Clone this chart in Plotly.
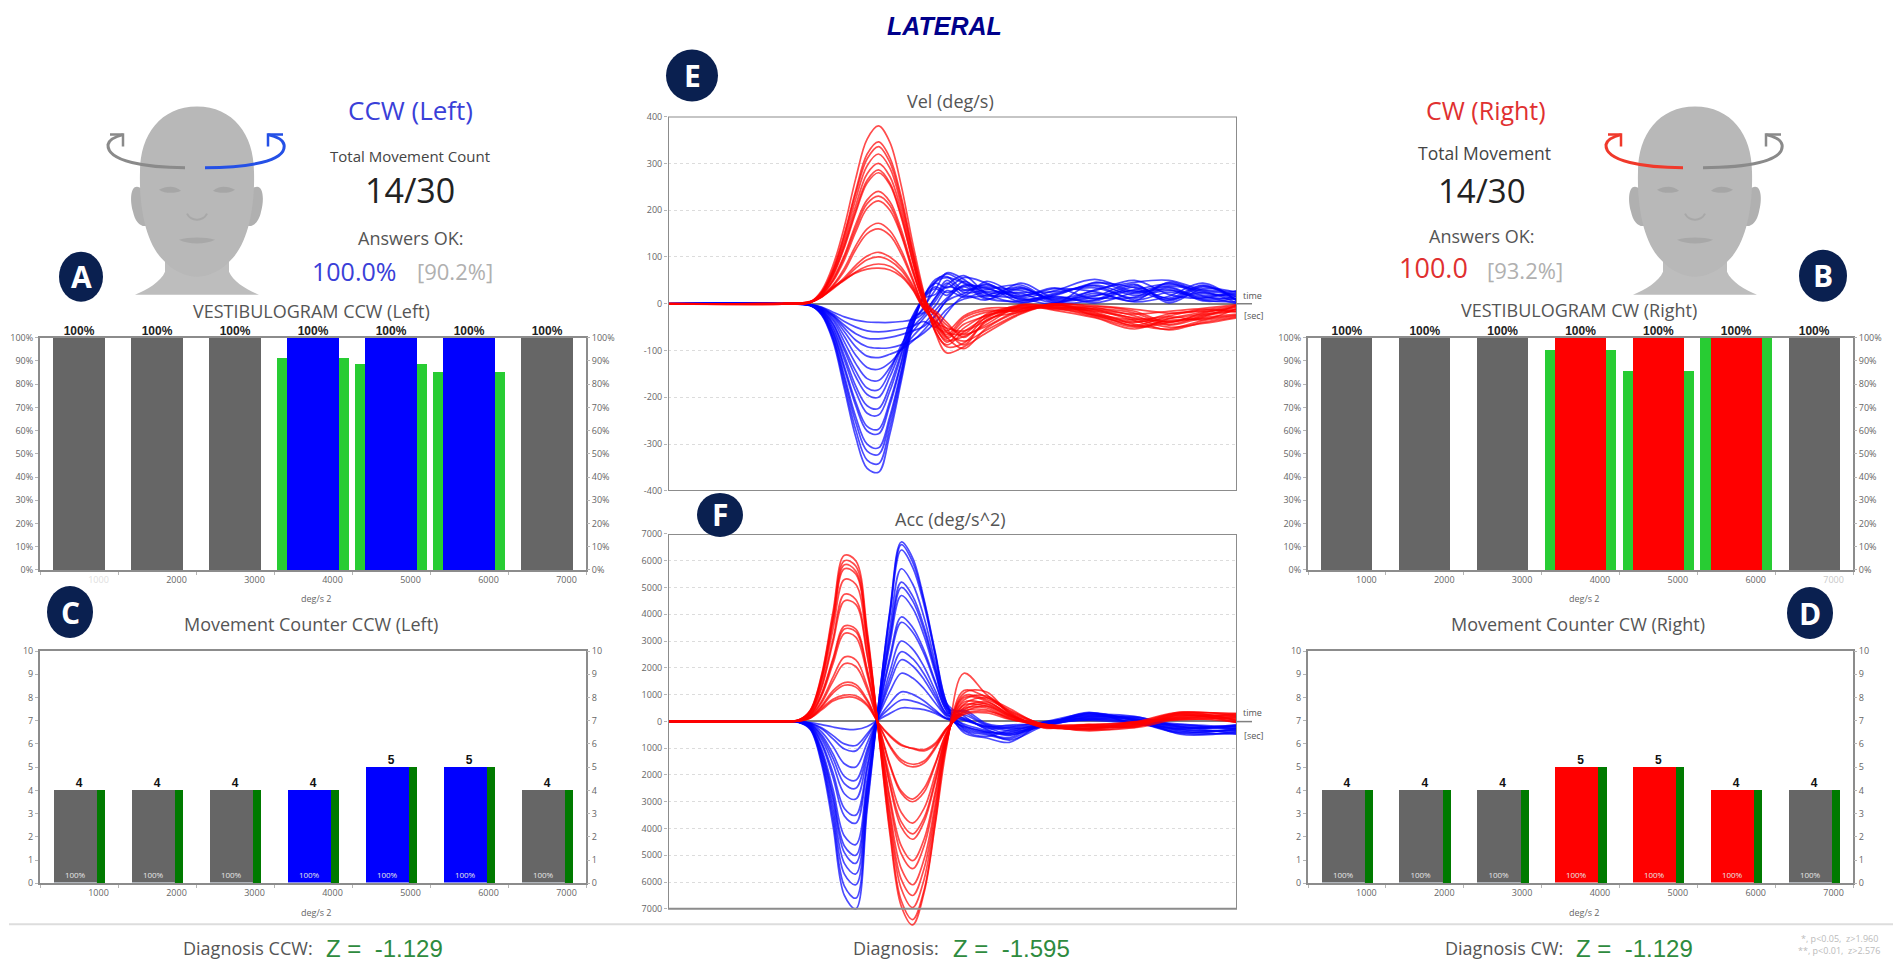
import plotly.graph_objects as go

# page has an 8px body margin, figure is sized so it fits the 1902x974 window
W = 1886
H = 956
FONT = "Open Sans"

# ---- bar panels ----
bar_x = [500, 1500, 2500, 3500, 4500, 5500, 6500]
tick_pos = [750, 1750, 2750, 3750, 4750, 5750, 6750]
tick_labels = ["1000", "2000", "3000", "4000", "5000", "6000", "7000"]
pct_labels = ["100%", "100%", "100%", "100%", "100%", "100%", "100%"]

vest_left = [100, 100, 100, 100, 100, 100, 100]
vest_left_green = [0, 0, 0, 91.5, 89, 85.5, 0]
vest_right = [100, 100, 100, 100, 100, 100, 100]
vest_right_green = [0, 0, 0, 95, 86, 100, 0]

count_left = [4, 4, 4, 4, 5, 5, 4]
count_right = [4, 4, 4, 5, 5, 4, 4]

colors_left = ["#666666", "#666666", "#666666", "#0000ff", "#0000ff", "#0000ff", "#666666"]
colors_right = ["#666666", "#666666", "#666666", "#ff0000", "#ff0000", "#ff0000", "#666666"]

# ---- velocity traces ----
t_vel = [0, .2, .25, .27, .29, .31, .33, .35, .37, .39, .41, .43, .45, .47, .49, .52, .56, .62, .68, .75, .82, .88, .94, 1.0]

vel_red = [
    [0, 0, 4, 28, 82, 165, 268, 352, 380, 345, 252, 130, 22, -62, -105, -92, -62, -22, -2, -18, -44, -54, -36, -26],
    [0, 1, 3, 25, 74, 150, 242, 320, 346, 312, 228, 116, 18, -58, -92, -84, -38, -10, -10, -28, -50, -40, -24, -12],
    [0, -1, 4, 24, 71, 146, 236, 310, 336, 302, 220, 110, 12, -30, -72, -96, -52, -16, -3, -12, -32, -50, -42, -30],
    [1, 0, 3, 23, 68, 138, 224, 295, 320, 290, 210, 106, 14, -60, -88, -60, -30, -6, -14, -30, -54, -32, -18, -6],
    [0, 0, 5, 23, 65, 130, 210, 278, 300, 272, 198, 98, 10, -20, -60, -80, -56, -20, 0, -8, -26, -46, -30, -22],
    [-1, 0, 3, 22, 62, 124, 200, 264, 286, 258, 188, 92, 8, -46, -82, -52, -24, -14, -6, -24, -46, -28, -34, -10],
    [0, 1, 4, 21, 60, 120, 195, 258, 280, 254, 184, 90, 6, -52, -78, -70, -44, -4, -12, -14, -36, -56, -40, -28],
    [0, 0, 3, 20, 54, 104, 170, 222, 240, 218, 158, 76, 4, -24, -54, -88, -34, -18, 0, -26, -40, -22, -14, -4],
    [1, 0, 4, 19, 50, 100, 162, 214, 230, 210, 150, 72, 2, -42, -74, -44, -26, -2, -8, -10, -20, -44, -26, -16],
    [0, -1, 3, 19, 48, 94, 154, 204, 220, 200, 146, 68, 0, -48, -62, -66, -48, -12, -3, -20, -48, -36, -32, -24],
    [0, 0, 3, 17, 40, 76, 124, 160, 172, 156, 114, 54, -4, -16, -40, -72, -28, -8, -10, -6, -16, -40, -20, -8],
    [0, 0, 4, 16, 38, 70, 116, 150, 160, 146, 106, 50, -6, -40, -70, -36, -18, -12, -1, -22, -34, -26, -12, -18],
    [0, 1, 3, 15, 34, 56, 82, 102, 110, 100, 78, 40, -8, -38, -52, -58, -36, -3, -6, -16, -30, -38, -28, -3],
    [0, 0, 3, 15, 32, 52, 76, 94, 100, 92, 72, 36, -10, -42, -66, -30, -14, -16, -2, -4, -12, -20, -16, -12],
    [0, 0, 4, 14, 34, 50, 68, 80, 85, 80, 62, 32, -10, -22, -46, -64, -22, -5, -9, -24, -38, -32, -22, -15],
    [0, 0, 3, 15, 36, 52, 66, 74, 76, 72, 58, 30, -12, -36, -58, -26, -10, -9, -4, -12, -22, -16, -10, -2],
]

vel_blue = [
    [0, 0, -3, -24, -80, -182, -285, -352, -360, -278, -165, -50, 18, 48, 64, 46, 24, 22, 2, 30, 46, 50, 30, 26],
    [0, 1, -3, -23, -76, -172, -270, -334, -342, -264, -156, -46, 16, 52, 58, 30, 40, 10, 18, 44, 34, 12, 40, 8],
    [1, 0, -4, -22, -72, -162, -254, -315, -322, -250, -148, -44, -6, 30, 66, 52, 16, 34, 6, 12, 14, 44, 18, 22],
    [0, -1, -3, -21, -68, -154, -242, -300, -308, -240, -142, -40, 15, 44, 34, 56, 44, 14, 28, 52, 26, 30, 8, 4],
    [0, 0, -3, -19, -62, -140, -218, -272, -278, -216, -128, -36, 12, 20, 50, 24, 30, 40, 4, 8, 40, 6, 36, 14],
    [-1, 0, -4, -18, -60, -134, -210, -262, -268, -208, -124, -34, -10, 46, 56, 44, 12, 6, 22, 38, 8, 24, 14, 10],
    [0, 0, -3, -17, -54, -120, -188, -234, -238, -186, -110, -30, 14, 36, 24, 38, 36, 28, 10, 18, 30, 42, 28, 20],
    [0, 1, -3, -16, -50, -112, -176, -218, -224, -174, -104, -28, -18, 12, 44, 18, 48, 18, 32, 26, 4, 16, 44, 6],
    [0, 0, -3, -15, -44, -100, -156, -194, -200, -156, -94, -26, 12, 32, 18, 48, 20, 12, 0, 46, 22, 36, 10, 16],
    [1, 0, -2, -14, -42, -94, -144, -180, -184, -144, -88, -50, -24, 6, 36, 28, 34, 4, 14, 6, 36, 10, 24, 2],
    [0, -1, -3, -13, -36, -82, -128, -160, -164, -136, -96, -60, -30, -4, 28, 14, 26, 24, 26, 34, 12, 34, 6, 12],
    [0, 0, -2, -12, -32, -70, -110, -136, -140, -126, -98, -70, -44, -14, 12, 36, 10, 32, 8, 16, 42, 2, 32, 24],
    [0, 0, -2, -11, -28, -60, -92, -112, -115, -108, -98, -80, -56, -26, 6, 22, 42, 8, 20, 40, 18, 28, 16, 0],
    [0, 1, -3, -10, -26, -52, -78, -92, -95, -94, -88, -78, -62, -40, -12, 10, 18, 36, 2, 22, 6, 46, 22, 18],
    [0, 0, -2, -9, -24, -46, -64, -74, -75, -72, -66, -58, -48, -24, 8, 40, 32, 16, 34, 10, 28, 8, 38, 6],
    [0, 0, -2, -8, -22, -38, -50, -58, -60, -58, -54, -48, -38, -50, -20, 16, 8, 44, 12, 28, 50, 20, 12, 28],
    [0, 0, -2, -7, -18, -28, -35, -39, -40, -40, -38, -34, -20, 14, 40, 60, 22, 2, 16, 2, 24, 38, 26, 10],
]

# ---- acceleration traces ----
t_acc = [0, .2, .23, .25, .27, .29, .31, .33, .35, .37, .39, .41, .43, .45, .47, .49, .52, .56, .60, .66, .74, .82, .90, 1.0]

acc_red = [
    [0, 10, 60, 420, 1750, 4100, 6200, 6000, 3400, -400, -4200, -6900, -7600, -6400, -3800, -900, 1800, 1000, 350, -100, -200, -120, 230, 180],
    [0, -10, 50, 400, 1700, 3950, 6000, 5800, 3250, -380, -4050, -6700, -7400, -6300, -3700, -800, 1150, 900, 480, -150, -260, -40, 320, 260],
    [10, 0, 60, 390, 1620, 3800, 5850, 5620, 3150, -350, -3800, -6250, -6950, -5900, -3450, -750, 1050, 1100, 300, -220, -180, -200, 150, 60],
    [0, 10, 40, 380, 1580, 3720, 5700, 5500, 3050, -340, -3550, -5900, -6500, -5500, -3250, -700, 950, 820, 420, -120, -320, -90, 280, 300],
    [-10, 0, 50, 350, 1470, 3450, 5300, 5120, 2850, -300, -3350, -5500, -6100, -5150, -3050, -650, 880, 760, 260, -190, -140, -230, 90, -30],
    [0, 0, 40, 320, 1320, 3080, 4750, 4550, 2550, -270, -3000, -4950, -5500, -4650, -2750, -600, 800, 950, 390, -110, -290, -30, 350, 210],
    [10, -10, 40, 300, 1250, 2950, 4500, 4370, 2450, -260, -2850, -4650, -5200, -4400, -2600, -580, 720, 640, 220, -170, -220, -170, 200, 120],
    [0, 0, 30, 260, 1050, 2350, 3560, 3450, 1950, -200, -2400, -3950, -4400, -3750, -2250, -520, 640, 880, 330, -240, -110, -60, 110, 280],
    [0, 10, 30, 240, 1000, 2280, 3450, 3350, 1880, -190, -2300, -3750, -4200, -3600, -2150, -500, 600, 560, 180, -130, -350, -150, 300, 40],
    [-10, 0, 30, 230, 950, 2150, 3280, 3150, 1760, -180, -2080, -3400, -3800, -3250, -1950, -480, 520, 720, 280, -200, -160, -20, 60, 160],
    [0, 0, 30, 200, 760, 1650, 2400, 2300, 1330, -130, -1650, -2680, -3000, -2650, -1600, -420, 480, 500, 120, -100, -300, -220, 240, -50],
    [0, 10, 20, 180, 700, 1500, 2150, 2050, 1200, -120, -1600, -2600, -2900, -2500, -1550, -400, 420, 660, 240, -180, -130, -80, 180, 230],
    [0, 0, 20, 150, 580, 1150, 1450, 1380, 820, -100, -950, -1520, -1700, -1560, -1000, -300, 380, 430, 100, -150, -250, -10, 80, 100],
    [10, 0, 20, 140, 540, 1060, 1350, 1280, 760, -90, -900, -1430, -1600, -1480, -950, -280, 340, 580, 200, -110, -190, -130, 340, 20],
    [0, -10, 20, 130, 480, 830, 980, 960, 640, -70, -560, -900, -1000, -1050, -800, -240, 300, 380, 150, -210, -280, -60, 130, 190],
    [0, 0, 20, 120, 430, 760, 900, 880, 590, -60, -520, -860, -1020, -1100, -860, -260, 260, 320, 80, -130, -120, -180, 260, -40],
]

acc_blue = [
    [0, -5, -40, -300, -1600, -3900, -6500, -7000, -3300, 650, 4150, 6700, 6100, 4550, 2550, 670, -300, -500, -650, -100, 200, 100, -300, -350],
    [0, 5, -40, -280, -1500, -3650, -6150, -6600, -3100, 640, 4080, 6600, 5950, 4480, 2500, 660, 200, -300, -500, -160, 320, 30, -420, -250],
    [-5, 0, -30, -260, -1400, -3400, -5700, -6100, -2900, 620, 3950, 6400, 5750, 4350, 2430, 640, -420, -620, -780, -60, 120, 170, -180, -460],
    [0, 0, -30, -240, -1300, -3150, -5300, -5700, -2700, 550, 3500, 5700, 5130, 3880, 2160, 570, 100, -180, -350, -200, 280, -60, -260, -180],
    [0, -5, -30, -220, -1200, -2900, -4900, -5300, -2500, 500, 3200, 5200, 4680, 3540, 1980, 520, -250, -460, -600, -30, 60, 120, -480, -380],
    [5, 0, -30, -210, -1130, -2750, -4650, -5000, -2370, 480, 3080, 5000, 4500, 3400, 1900, 500, 350, -120, -240, -130, 340, -100, -120, -300],
    [0, 0, -20, -190, -1040, -2530, -4280, -4600, -2180, 470, 2900, 4700, 4230, 3200, 1790, 470, -150, -400, -700, -180, 150, 60, -350, -480],
    [0, 5, -20, -160, -860, -2090, -3530, -3800, -1800, 390, 2420, 3900, 3510, 2650, 1480, 390, 50, -220, -450, -70, 240, 190, -200, -150],
    [0, 0, -20, -150, -790, -1920, -3250, -3500, -1660, 370, 2290, 3700, 3330, 2520, 1410, 370, -350, -560, -320, -150, 90, -30, -440, -420],
    [-5, 0, -20, -130, -660, -1600, -2700, -2900, -1380, 300, 1860, 3000, 2700, 2040, 1140, 300, 420, -80, -180, -20, 300, 80, -150, -240],
    [0, 0, -15, -110, -570, -1380, -2320, -2500, -1190, 260, 1610, 2600, 2340, 1770, 990, 260, -100, -340, -520, -110, 40, -80, -310, -340],
    [0, -5, -15, -100, -500, -1210, -2050, -2200, -1050, 230, 1430, 2300, 2070, 1560, 870, 230, 250, -150, -280, -190, 180, 140, -230, -120],
    [0, 0, -10, -80, -390, -940, -1580, -1700, -810, 190, 1120, 1800, 1620, 1220, 680, 180, -220, -420, -400, -40, 110, -20, -380, -300],
    [0, 0, -10, -70, -280, -650, -1030, -1100, -560, 120, 680, 1100, 1010, 760, 420, 110, 120, -260, -220, -90, 260, 60, -100, -200],
    [5, 0, -10, -60, -240, -530, -840, -900, -460, 90, 500, 800, 760, 610, 360, 100, -180, -380, -460, -140, 70, -50, -280, -160],
    [0, 0, -5, -40, -120, -210, -280, -300, -190, 60, 300, 500, 490, 440, 300, 90, 60, -200, -140, -60, 210, 30, -210, -260],
]

# ---- tick texts ----
vel_ticks = [-400, -300, -200, -100, 0, 100, 200, 300, 400]
vel_tick_labels = ["-400", "-300", "-200", "-100", "0", "100", "200", "300", "400"]
acc_ticks = [-7000, -6000, -5000, -4000, -3000, -2000, -1000, 0, 1000, 2000, 3000, 4000, 5000, 6000, 7000]
acc_tick_labels = ["7000", "6000", "5000", "4000", "3000", "2000", "1000", "0", "1000", "2000", "3000", "4000", "5000", "6000", "7000"]


def X(px):
    return (px - 8) / W


def Y(py):
    # vertical mapping measured from the first render
    return 1 - (py - 15.5) / 942.2


fig = go.Figure()
annots = []
shapes = []


def txt(x, y, s, size, color="#555555", bold=False, italic=False, family=FONT):
    if bold:
        s = "<b>" + s + "</b>"
    if italic:
        s = "<i>" + s + "</i>"
    annots.append(dict(x=X(x), y=Y(y), xref="paper", yref="paper", text=s, showarrow=False,
                       xanchor="center", yanchor="middle",
                       font=dict(family=family, size=size, color=color)))


def badge(x, y, rx, ry, letter):
    shapes.append(dict(type="circle", xref="paper", yref="paper", layer="above",
                       x0=X(x - rx), x1=X(x + rx), y0=Y(y + ry), y1=Y(y - ry),
                       fillcolor="#0a2050", line=dict(width=0)))
    txt(x, y, letter, 30, "white", bold=True)


def head_path(d, cx):
    out = []
    is_x = True
    for tok in d.split():
        if tok.isalpha():
            out.append(tok)
        else:
            out.append(str(X(cx + float(tok))) if is_x else str(Y(float(tok))))
            is_x = not is_x
    return " ".join(out)


def draw_path(d, cx, fill=None, line_color=None, width=0):
    shapes.append(dict(type="path", xref="paper", yref="paper", layer="above",
                       path=head_path(d, cx), fillcolor=fill if fill else "rgba(0,0,0,0)",
                       line=dict(color=line_color if line_color else "rgba(0,0,0,0)", width=width)))


def head(cx, left_color, right_color):
    skin = "#b8b8b8"
    # neck and shoulders
    draw_path("M -32 240 L -32 272 C -36 282 -50 290 -62 295 L 62 295 C 50 290 36 282 32 272 L 32 240 Z", cx, fill="#bdbdbd")
    # ears
    draw_path("M -54 190 C -66 180 -68 198 -64 212 C -62 222 -56 228 -50 226 Z", cx, fill="#b0b0b0")
    draw_path("M 54 190 C 66 180 68 198 64 212 C 62 222 56 228 50 226 Z", cx, fill="#b0b0b0")
    # skull and jaw
    draw_path("M 0 107 C 36 107 57 135 57 172 C 58 205 52 240 36 258 C 24 272 10 277 0 277 "
              "C -10 277 -24 272 -36 258 C -52 240 -58 205 -57 172 C -57 135 -36 107 0 107 Z", cx, fill=skin)
    # soft face features
    draw_path("M -38 190 C -30 186 -22 186 -16 191 C -22 194 -32 194 -38 190 Z", cx, fill="#a6a6a6")
    draw_path("M 38 190 C 30 186 22 186 16 191 C 22 194 32 194 38 190 Z", cx, fill="#a6a6a6")
    draw_path("M -10 214 C -6 222 6 222 10 214", cx, line_color="#a8a8a8", width=2)
    draw_path("M -18 240 C -8 237 8 237 18 240 C 8 245 -8 245 -18 240 Z", cx, fill="#a8a8a8")
    # rotation arrows
    draw_path("M -12 168 C -50 168 -90 162 -89 145 C -88 140 -82 137 -74 135", cx, line_color=left_color, width=3)
    draw_path("M -87 135 L -74 135 L -74 147", cx, line_color=left_color, width=2.5)
    draw_path("M 8 168 C 50 168 90 162 87 145 C 86 140 80 137 71 135", cx, line_color=right_color, width=3)
    draw_path("M 86 135 L 71 135 L 71 147", cx, line_color=right_color, width=2.5)


axis_style = dict(showline=True, mirror=True, linecolor="#8c8c8c", linewidth=2, showgrid=False, zeroline=False,
                  tickfont=dict(family=FONT, size=9, color="#666666"))


def bar_axes(n, y_left, y_right, left, right, top, bottom, yticks, ylabels, ymax, labels):
    xa = "xaxis" if n == 1 else "xaxis%d" % n
    fig.update_layout(**{
        xa: dict(axis_style, domain=[X(left), X(right)], range=[0, 7000], anchor="y%d" % y_left,
                 tickmode="array", tickvals=tick_pos, ticktext=labels, ticks="",
                 minor=dict(dtick=1000, tick0=0, ticks="outside", ticklen=3, tickcolor="#b5b5b5", showgrid=False)),
        "yaxis%d" % y_left: dict(axis_style, domain=[Y(bottom), Y(top)], range=[0, ymax], anchor="x%d" % n,
                                 tickmode="array", tickvals=yticks, ticktext=ylabels,
                                 ticks="outside", ticklen=3, tickcolor="#b5b5b5"),
        "yaxis%d" % y_right: dict(axis_style, domain=[Y(bottom), Y(top)], range=[0, ymax], anchor="x%d" % n,
                                  overlaying="y%d" % y_left, side="right", showline=False,
                                  tickmode="array", tickvals=yticks, ticktext=ylabels,
                                  ticks="outside", ticklen=3, tickcolor="#b5b5b5"),
    })


def vest_panel(n, yl, yr, left, right, top, bottom, values, green, colors, labels):
    xn = "x" if n == 1 else "x%d" % n
    fig.add_trace(go.Bar(x=bar_x, y=green, width=920, offset=-460, marker=dict(color="#28cc33", line=dict(width=0)),
                         xaxis=xn, yaxis="y%d" % yl, hoverinfo="skip"))
    fig.add_trace(go.Bar(x=bar_x, y=values, width=655, offset=-327, marker=dict(color=colors, line=dict(width=0)),
                         xaxis=xn, yaxis="y%d" % yl, hoverinfo="skip"))
    fig.add_trace(go.Scatter(x=bar_x, y=values, mode="text", text=pct_labels, textposition="top center",
                             textfont=dict(family="Liberation Sans", size=12, color="#222222", weight="bold"),
                             cliponaxis=False, xaxis=xn, yaxis="y%d" % yr, hoverinfo="skip"))
    pct_ticks = [0, 10, 20, 30, 40, 50, 60, 70, 80, 90, 100]
    pct_text = ["0%", "10%", "20%", "30%", "40%", "50%", "60%", "70%", "80%", "90%", "100%"]
    bar_axes(n, yl, yr, left, right, top, bottom, pct_ticks, pct_text, 100, labels)


def count_panel(n, yl, yr, left, right, top, bottom, values, colors, labels):
    xn = "x%d" % n
    fig.add_trace(go.Bar(x=bar_x, y=values, width=660, offset=-325, marker=dict(color="#007a00", line=dict(width=0)),
                         xaxis=xn, yaxis="y%d" % yl, hoverinfo="skip"))
    fig.add_trace(go.Bar(x=bar_x, y=values, width=555, offset=-325, marker=dict(color=colors, line=dict(width=0)),
                         xaxis=xn, yaxis="y%d" % yl, hoverinfo="skip"))
    fig.add_trace(go.Scatter(x=bar_x, y=values, mode="text", text=[str(v) for v in values], textposition="top center",
                             textfont=dict(family="Liberation Sans", size=12, color="#111111", weight="bold"),
                             cliponaxis=False, xaxis=xn, yaxis="y%d" % yr, hoverinfo="skip"))
    fig.add_trace(go.Bar(x=bar_x, y=[0, 0, 0, 0, 0, 0, 0], text=pct_labels, textposition="outside", cliponaxis=False,
                         textfont=dict(family=FONT, size=8, color="#e6e6e6"), marker=dict(color="rgba(0,0,0,0)"),
                         width=555, offset=-325, xaxis=xn, yaxis="y%d" % yr, hoverinfo="skip"))
    c_ticks = [0, 1, 2, 3, 4, 5, 6, 7, 8, 9, 10]
    c_text = [str(v) for v in c_ticks]
    bar_axes(n, yl, yr, left, right, top, bottom, c_ticks, c_text, 10, labels)


faint_1000 = ['<span style="color:#e0e0e0">1000</span>'] + tick_labels[1:]
faint_7000 = tick_labels[:-1] + ['<span style="color:#c8c8c8">7000</span>']

vest_panel(1, 1, 2, 40, 586, 338, 570, vest_left, vest_left_green, colors_left, faint_1000)
count_panel(2, 3, 4, 40, 586, 651, 883, count_left, colors_left, tick_labels)
vest_panel(3, 5, 6, 1308, 1853, 338, 570, vest_right, vest_right_green, colors_right, faint_7000)
count_panel(4, 7, 8, 1308, 1853, 651, 883, count_right, colors_right, tick_labels)


def line_panel(n, yn, top, bottom, times, blue, red, yrange, ticks, ticklabels):
    for c in blue:
        fig.add_trace(go.Scatter(x=times, y=c, mode="lines", line=dict(color="rgba(0,0,255,0.7)", width=1.7, shape="spline"),
                                 xaxis="x%d" % n, yaxis="y%d" % yn, hoverinfo="skip"))
    for c in red:
        fig.add_trace(go.Scatter(x=times, y=c, mode="lines", line=dict(color="rgba(255,0,0,0.7)", width=1.7, shape="spline"),
                                 xaxis="x%d" % n, yaxis="y%d" % yn, hoverinfo="skip"))
    # frame is drawn as a shape so the biggest traces can run past the bottom edge
    shapes.append(dict(type="rect", xref="x%d" % n, yref="y%d" % yn, x0=0, x1=1, y0=ticks[0], y1=ticks[-1],
                       line=dict(color="#8c8c8c", width=2), layer="above"))
    style = dict(axis_style, showline=False, mirror=False)
    fig.update_layout(**{
        "xaxis%d" % n: dict(style, domain=[X(668), X(1237)], range=[0, 1], anchor="y%d" % yn, showticklabels=False, ticks=""),
        "yaxis%d" % yn: dict(style, domain=[Y(bottom), Y(top)], range=yrange, anchor="x%d" % n,
                             tickmode="array", tickvals=ticks, ticktext=ticklabels,
                             ticks="outside", ticklen=3, tickcolor="#b5b5b5",
                             showgrid=True, gridcolor="#dcdcdc", griddash="dot", gridwidth=1,
                             zeroline=True, zerolinecolor="#808080", zerolinewidth=2),
    })


line_panel(5, 9, 117, 491, t_vel, vel_blue, vel_red, [-400, 400], vel_ticks, vel_tick_labels)
# 375px covers 14000 units in the reference, so -7650 sits 17px under the frame
line_panel(6, 10, 534, 926, t_acc, acc_blue, acc_red, [-7650, 7000], acc_ticks, acc_tick_labels)

# time arrows to the right of the two centre panels
for zero_y, time_y, sec_y in [(304, 296, 316), (721.5, 712, 735)]:
    shapes.append(dict(type="line", xref="paper", yref="paper", x0=X(1237), x1=X(1252), y0=Y(zero_y), y1=Y(zero_y),
                       line=dict(color="#808080", width=1.5)))
    txt(1252, time_y, "time", 9)
    txt(1254, sec_y, "[sec]", 9)

# heads
head(197, "#8a8a8a", "#2450e6")
head(1695, "#f0392b", "#8a8a8a")

# header text, left
txt(944, 26, "LATERAL", 25, "#00008b", bold=True, italic=True, family="Liberation Sans")
txt(410, 110, "CCW (Left)", 26, "#3a3fd8")
txt(410, 156, "Total Movement Count", 15, "#444444")
txt(410, 190, "14/30", 34, "#222222")
txt(410, 238, "Answers OK:", 18, "#555555")
txt(354, 271, "100.0%", 25, "#3a3fd8")
txt(455, 271, "[90.2%]", 22, "#b0b0b0")

# header text, right
txt(1486, 110, "CW (Right)", 25, "#e03030")
txt(1484, 153, "Total Movement", 17.5, "#444444")
txt(1482, 191, "14/30", 33, "#222222")
txt(1481, 236, "Answers OK:", 18, "#555555")
txt(1433, 268, "100.0", 27, "#e03030")
txt(1525, 270, "[93.2%]", 22, "#b0b0b0")

# panel titles
txt(311, 311, "VESTIBULOGRAM CCW (Left)", 18, "#555555")
txt(1579, 310, "VESTIBULOGRAM CW (Right)", 18, "#555555")
txt(311, 624, "Movement Counter CCW (Left)", 18, "#555555")
txt(1578, 624, "Movement Counter CW (Right)", 18, "#555555")
txt(950, 101, "Vel (deg/s)", 18, "#555555")
txt(950, 519, "Acc (deg/s^2)", 18, "#555555")
txt(316, 599, "deg/s 2", 9, "#666666")
txt(316, 912, "deg/s 2", 9, "#666666")
txt(1584, 599, "deg/s 2", 9, "#666666")
txt(1584, 912, "deg/s 2", 9, "#666666")

# footer
shapes.append(dict(type="line", xref="paper", yref="paper", x0=X(9), x1=X(1893), y0=Y(924), y1=Y(924),
                   line=dict(color="#dddddd", width=2), layer="below"))
txt(248, 948, "Diagnosis CCW:", 18, "#555555")
txt(384, 948, "Z =  -1.129", 24, "#2e8b3e", family="Liberation Sans")
txt(896, 948, "Diagnosis:", 18, "#555555")
txt(1011, 948, "Z =  -1.595", 24, "#2e8b3e", family="Liberation Sans")
txt(1504, 948, "Diagnosis CW:", 18, "#555555")
txt(1634, 948, "Z =  -1.129", 24, "#2e8b3e", family="Liberation Sans")
txt(1839, 938, "*, p&lt;0.05,  z&gt;1.960", 9, "#bbbbbb")
txt(1839, 950, "**, p&lt;0.01,  z&gt;2.576", 9, "#bbbbbb")

# badges
badge(81, 277, 22, 25, "A")
badge(1823, 276, 24, 26, "B")
badge(70, 612, 23, 26, "C")
badge(1810, 613, 23, 26, "D")
badge(692, 76, 26, 26, "E")
badge(720, 515, 23, 22, "F")

fig.update_layout(
    width=W,
    height=H,
    autosize=False,
    margin=dict(l=0, r=0, t=0, b=0),
    paper_bgcolor="white",
    plot_bgcolor="rgba(0,0,0,0)",
    barmode="overlay",
    bargap=0,
    showlegend=False,
    annotations=annots,
    shapes=shapes,
)

fig.write_html("out.html")
